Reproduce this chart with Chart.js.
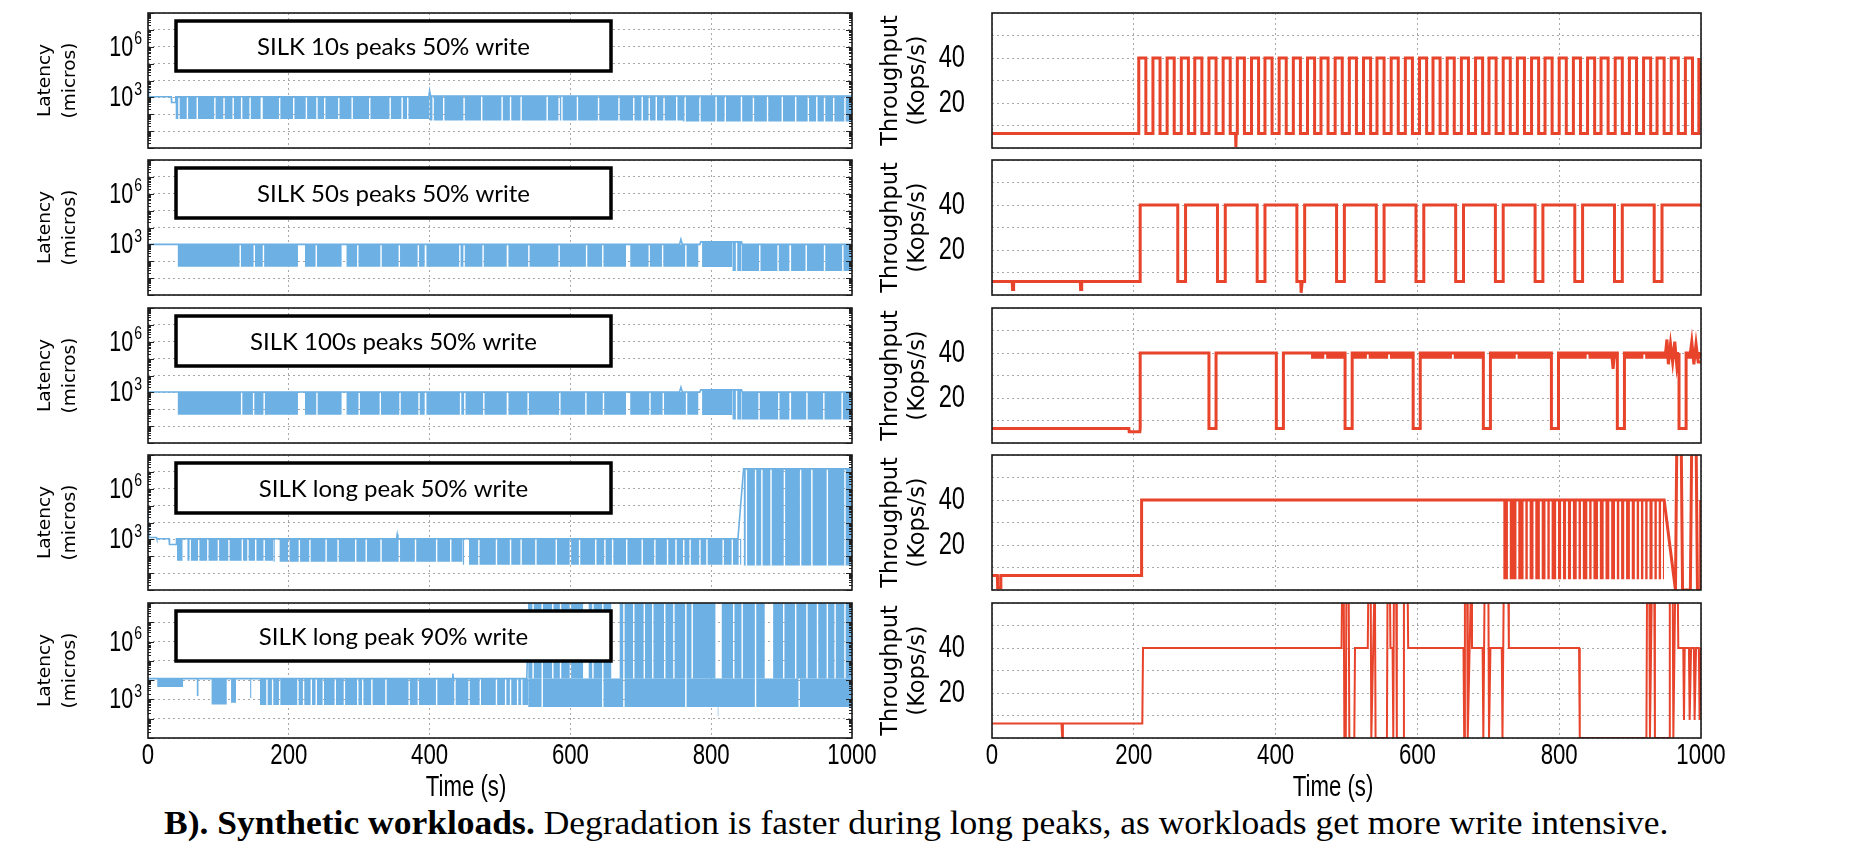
<!DOCTYPE html>
<html>
<head>
<meta charset="utf-8">
<script src="https://cdn.jsdelivr.net/npm/chart.js@4.4.1/dist/chart.umd.min.js"></script>
<style>
  html, body { margin: 0; padding: 0; background: #fff; }
  body { width: 1872px; height: 862px; position: relative; overflow: hidden; }
  canvas { position: absolute; }
  #caption { position: absolute; left: 164px; top: 804px; white-space: nowrap; transform: scaleX(1.044);
    transform-origin: 0 0; font-family: "Liberation Serif", "Times New Roman", serif; font-size: 34px; color: #000; }
</style>
</head>
<body>
<div id="caption"><b>B). Synthetic workloads.</b> Degradation is faster during long peaks, as workloads get more write intensive.</div>
<script>
// ---- latency (left column), micros, log scale ----
// top line of each trace, and dense spans [start, end, top, bottom] with short breaks (s)
const lat10TopT = [0, 1, 33, 33.5, 39, 39.5, 399, 400, 401.5, 1000];
const lat10TopV = [4200, 1100, 1100, 500, 500, 1100, 1100, 2500, 1200, 1200];
const lat10Spans = [[39, 400, 1100, 52], [400, 760, 1200, 43], [760, 1000, 1200, 37]];
const lat10Gaps = [44, 56, 70, 95, 108, 121, 133, 145, [160, 163], 187, 207, 225, 240, 251, 271, 290, 315, 344, 361, 369,
  405, 420, 449, 474, 503, 515, 530, 567, 584, 588, 610, 640, 669, 690, 702, 712, 722, 733, 751, 763, 784, 807, 820,
  843, 860, 880, 901, 920, 938, 950, 961, 974, 990];

const lat50TopT = [0, 42, 755, 757, 759, 784, 785, 843, 844, 1000];
const lat50TopV = [1000, 1000, 1000, 2000, 1000, 1000, 1400, 1400, 1000, 1000];
const lat50Spans = [[42, 782, 1000, 48], [787, 830, 1400, 46], [830, 843, 1400, 26], [843, 1000, 1000, 26]];
const lat50Gaps = [131, 151, 164, [213, 223], 239, [275, 282], 298, 331, 357, 384, [393, 395.5], 443, 449, 476,
  [509.5, 512], 541, 584, 623, 646, [679, 685], 712, 731, 764, 836, 869, 895, [911, 913.5], 935, 961, 987];

const lat100TopT = [0, 42, 755, 757, 759, 784, 785, 843, 844, 1000];
const lat100TopV = [1050, 1050, 1050, 2000, 1050, 1050, 1400, 1400, 1050, 1050];
const lat100Spans = [[42, 782, 1050, 48], [787, 830, 1400, 46], [830, 843, 1400, 25], [843, 1000, 1050, 25]];
const lat100Gaps = [133, 150, 165, [213, 223], 240, [275, 282], 300, 330, 358, 385, [393, 395.5], 444, 450, 477,
  [509.5, 512], 540, 585, 622, 647, [679, 685], 713, 732, 765, 836, 868, 896, [911, 913.5], 936, 960, 986];

const latLongTopT = [0, 1.5, 12, 12.5, 30, 30.5, 40, 40.5, 353, 354, 355, 838, 846, 997, 999];
const latLongTopV = [28000, 1300, 1300, 1100, 1100, 500, 500, 1100, 1100, 2000, 1100, 1100, 1.5e7, 1.5e7, 28];
const latLongSpans = [[41, 178, 1100, 55], [178, 447, 1100, 47], [447, 843, 1100, 31], [846, 998, 1.5e7, 28]];
const latLongGaps = [[49, 56], 60, 72, 85, 100, 115, 134, 142, 153, 165, [180, 187], 200, 215, 230, 253, 270, 295, 310,
  331, 357, 380, 410, 430, [449, 456], 470, 495, 515, 530, 551, 580, 600, 613, 636, 649, 660, 680, 702, 720, 738, 750,
  761, 770, 784, 794, 817, 830, 840, 850, 863, 872, 885, 904, 927, 943, 965, 990];

const lat90TopT = [0, 432, 433, 434, 538, 542, 1000];
const lat90TopV = [12000, 12000, 22000, 12000, 12000, 1e9, 1e9];
const lat90Spans = [[13, 50, 12000, 4400], [69, 72, 12000, 1500], [90, 112, 12000, 550], [118, 125, 12000, 670],
  [145, 147, 12000, 1200], [159, 540, 12000, 520], [540, 1000, 12000, 400], [809, 810.5, 12000, 135]];
const lat90Gaps = [169, 177, 187, 213, 221, 232, 239, 249, 266, 279, 298, 305, 318, 338, 371, 384, 410, 436, 456, 472,
  495, 508, 515, 525, 531, 560, 646, 676, 764, 863, 925];
const lat90UpSpans = [[540, 1000, 1e9, 12000]];
const lat90UpGaps = [547, 560, 575, 586, 600, [618, 626], 632, 646, [658, 670], 676, 690, 705, 717, 734, 747, 764, 773,
  [806, 815], 832, 844, 863, [876, 888], 903, 920, 936, 951, 965, 976, 990];

// ---- throughput (right column), Kops/s ----
const tp10Up = [207, 227, 247, 267, 286, 306, 326, 346, 366, 385, 405, 425, 445, 464, 484, 504, 524, 543, 563, 583, 603,
  622, 642, 662, 682, 701, 721, 741, 761, 780, 800, 820, 840, 859, 879, 899, 919, 938, 958, 978, 997];
const tp10Down = [217, 237, 257, 277, 296, 316, 336, 356, 376, 395, 415, 435, 455, 474, 494, 514, 534, 553, 573, 593, 613,
  632, 652, 672, 692, 711, 731, 751, 771, 790, 810, 830, 850, 869, 889, 909, 929, 948, 968, 988];
const tp10Extra = [[343.5, 6.5], [344, 0.5], [344.5, 6.5], [1000, 24]];

const tp50Up = [209, 273, 329, 385, 441, 497, 553, 609, 665, 721, 777, 833, 889, 945];
const tp50Down = [262, 318, 374, 430, 486, 542, 598, 654, 710, 766, 822, 878, 934];
const tp50Extra = [[28.5, 6], [29, 2.5], [30, 2.5], [30.5, 6], [124.5, 6], [125, 2.5], [126, 2.5], [126.5, 6],
  [435.5, 6], [436, 1], [437, 1], [437.5, 6]];

const tp100Up = [209, 316, 411, 508, 604, 703, 799, 892, 979];
const tp100Down = [306, 401, 498, 594, 693, 789, 882, 969];
const tp100Extra = [[193, 6.5], [193.5, 5], [208.5, 5], [874, 40], [876, 33], [878, 40], [950, 40], [952, 46],
  [954, 35], [957, 44], [960, 36], [963, 45], [966, 34], [985, 40], [987, 45], [990, 35], [993, 44], [996, 36]];
const tp100Spans = [[450, 1000, 40.5, 37.5]];
const tp100Gaps = [470, [498, 508], 530, 560, [594, 604], 650, [693, 703], 740, [789, 799], 840, [882, 892], 920,
  [969, 979]];

const tpLongUp = [211];
const tpLongDown = [];
const tpLongExtra = [[7.5, 6.5], [8, 1], [12, 1], [12.5, 6.5], [948, 40], [964, 0], [966, 70], [972, 70], [974, 0],
  [985, 0], [987, 70], [993, 70], [995, 0], [999, 0], [999.5, 40], [1000, 20]];
const tpLongSpans = [[721, 948, 40.5, 4.8]];
const tpLongGaps = [729, 741, 751, 757, 765, 774, 782, 788, 797, 804, 811, 818, 826, 832, 841, 847, 856, 864, 872, 880,
  886, 893, 901, 908, 914, 920, 926, 933, 939, 945];

const tp90 = [[0, 6.5], [98, 6.5], [99, 0], [100, 6.5], [212, 6.5], [213, 40], [493, 40], [494, 75], [496, 75], [497, 0],
  [499, 0], [500, 75], [503, 75], [504, 0], [511, 0], [512, 40], [530, 40], [531, 75], [534, 75], [535, 0], [540, 75],
  [541, 0], [557, 0], [558, 75], [561, 75], [562, 40], [565, 40], [566, 0], [567, 75], [570, 75], [571, 0], [580, 0],
  [581, 75], [586, 75], [587, 40], [665, 40], [666, 0], [667, 75], [670, 75], [671, 0], [676, 75], [677, 40], [692, 40],
  [693, 0], [695, 75], [700, 75], [701, 0], [703, 40], [719, 40], [720, 0], [722, 75], [728, 75], [729, 40], [828, 40],
  [829, 0], [923, 0], [924, 75], [927, 75], [928, 0], [931, 75], [934, 75], [935, 0], [955, 0], [956, 75], [960, 75],
  [961, 0], [964, 75], [967, 75], [968, 40], [975, 40], [976, 8], [977, 40], [983, 40], [984, 8], [986, 40], [990, 40],
  [991, 8], [993, 40], [997, 40], [998, 8], [1000, 40]];

const xTicks = [0, 200, 400, 600, 800, 1000];
const decades = [1, 10, 100, 1e3, 1e4, 1e5, 1e6, 1e7, 1e8];
const latLabels = [1e3, 1e6];
const tpLabels = [20, 40];

const BLUE = '#6cb0e4';
const RED = '#e8432b';
const GRID = '#a8a8a8';
const SANS = '"Liberation Sans", Arial, sans-serif';
const SQUEEZE = 0.74;   // the figure's tick font is a condensed face
const ROW_TOP = [13, 160, 308, 455, 603];
const ROW_H = 135;

function squeezed(ctx, text, x, y, size, align) {
  ctx.save();
  ctx.font = size + 'px ' + SANS;
  ctx.textAlign = align;
  ctx.textBaseline = 'middle';
  ctx.translate(x, y);
  ctx.scale(SQUEEZE, 1);
  ctx.fillText(text, 0, 0);
  ctx.restore();
}

// frame, tick labels, axis titles, log minor ticks, white label box
const deco = {
  id: 'deco',
  afterDraw(chart, args, opts) {
    const { ctx, chartArea: a } = chart;
    const y = chart.scales.y;
    const x = chart.scales.x;
    ctx.save();
    ctx.fillStyle = '#000';
    if (opts.log) {
      ctx.strokeStyle = '#222';
      ctx.lineWidth = 1;
      decades.forEach(d => {
        for (let m = 1; m <= 9; m++) {
          const v = m * d;
          if (v < y.min || v > y.max) continue;
          const py = Math.round(y.getPixelForValue(v)) + 0.5;
          const len = m === 1 ? 6 : 3;
          ctx.beginPath();
          ctx.moveTo(a.left, py); ctx.lineTo(a.left + len, py);
          ctx.moveTo(a.right, py); ctx.lineTo(a.right - len, py);
          ctx.stroke();
        }
      });
      latLabels.forEach(v => {
        const py = y.getPixelForValue(v) - 1;
        const exp = String(Math.round(Math.log10(v)));
        ctx.font = '19px ' + SANS;
        const w = ctx.measureText(exp).width * SQUEEZE;
        squeezed(ctx, exp, a.left - 6, py - 7, 19, 'right');
        squeezed(ctx, '10', a.left - 7 - w, py + 2, 29, 'right');
      });
    }
    if (opts.yLabels) {
      opts.yLabels.forEach(v => squeezed(ctx, String(v), a.left - 27, y.getPixelForValue(v), 32, 'right'));
    }
    if (opts.xLabels) {
      xTicks.forEach(v => squeezed(ctx, String(v), x.getPixelForValue(v), a.bottom + 18, 30, 'center'));
      squeezed(ctx, 'Time (s)', a.left + opts.xTitleDx, a.bottom + 50, 30, 'center');
    }
    if (opts.yTitle) {
      ctx.font = opts.yTitleSize + 'px "DejaVu Sans"';
      ctx.textAlign = 'center';
      ctx.textBaseline = 'middle';
      opts.yTitle.forEach((line, k) => {
        ctx.save();
        ctx.translate(a.left - opts.yTitleDx[k], (a.top + a.bottom) / 2);
        ctx.rotate(-Math.PI / 2);
        ctx.fillText(line, 0, 0);
        ctx.restore();
      });
    }
    ctx.lineWidth = 1.6;
    ctx.strokeStyle = '#1a1a1a';
    ctx.strokeRect(a.left, a.top, a.width, a.height);
    if (opts.box) {
      const bx = a.left + 28, by = a.top + 8, bw = 435, bh = 50;
      ctx.fillStyle = '#fff';
      ctx.fillRect(bx, by, bw, bh);
      ctx.lineWidth = 3.5;
      ctx.strokeStyle = '#000';
      ctx.strokeRect(bx, by, bw, bh);
      ctx.fillStyle = '#000';
      ctx.font = '24px Lato';
      ctx.textAlign = 'center';
      ctx.textBaseline = 'middle';
      ctx.fillText(opts.box, bx + bw / 2, by + bh / 2 + 1);
    }
    ctx.restore();
  }
};

function gapEdges(g, half) {
  return Array.isArray(g) ? g : [g - half, g + half];
}

// dense oscillation drawn as a filled block from top to bottom, broken at the gaps
function bandData(span, gaps, half) {
  const [s, e, top, low] = span;
  const pts = [{ x: s, y: top }, { x: s, y: low }];
  gaps.forEach(g => {
    const [a, b] = gapEdges(g, half);
    if (a <= s || b >= e) return;
    pts.push({ x: a, y: low }, { x: a, y: top }, { x: b, y: top }, { x: b, y: low });
  });
  pts.push({ x: e, y: low }, { x: e, y: top });
  return pts;
}

function bandSets(spans, gaps, half, color) {
  return spans.map(sp => ({
    data: bandData(sp, gaps, half),
    borderColor: 'rgba(0,0,0,0)', borderWidth: 0, borderDash: [4, 0],
    backgroundColor: color, fill: { value: sp[2] }, pointRadius: 0, tension: 0
  }));
}

function pulseData(ups, downs, hi, lo, extra) {
  const pts = [{ x: 0, y: lo }];
  ups.forEach((u, i) => {
    pts.push({ x: u, y: lo }, { x: u, y: hi });
    if (i < downs.length) pts.push({ x: downs[i], y: hi }, { x: downs[i], y: lo });
  });
  extra.forEach(([x, y]) => pts.push({ x, y }));
  pts.sort((p, q) => p.x - q.x);
  if (pts[pts.length - 1].x < 1000) pts.push({ x: 1000, y: pts[pts.length - 1].y });
  return pts;
}

function addCanvas(left, top, w, h) {
  const c = document.createElement('canvas');
  c.width = w; c.height = h;
  c.style.left = left + 'px'; c.style.top = top + 'px';
  c.style.width = w + 'px'; c.style.height = h + 'px';
  document.body.appendChild(c);
  return c;
}

function xScale(last) {
  return {
    type: 'linear', min: 0, max: 1000,
    afterBuildTicks: s => { s.ticks = xTicks.map(v => ({ value: v })); },
    afterFit: s => { s.height = last ? 70 : 20; },
    ticks: { display: false },
    grid: { color: GRID, lineWidth: 1, drawTicks: false },
    border: { display: false, dash: [2, 3] }
  };
}

const latPanels = [
  { label: 'SILK 10s peaks 50% write', min: 1, max: 1e8, topT: lat10TopT, topV: lat10TopV, bands: [[lat10Spans, lat10Gaps]] },
  { label: 'SILK 50s peaks 50% write', min: 1, max: 1e8, topT: lat50TopT, topV: lat50TopV, bands: [[lat50Spans, lat50Gaps]] },
  { label: 'SILK 100s peaks 50% write', min: 1, max: 1e8, topT: lat100TopT, topV: lat100TopV, bands: [[lat100Spans, lat100Gaps]] },
  { label: 'SILK long peak 50% write', min: 1, max: 1e8, topT: latLongTopT, topV: latLongTopV, bands: [[latLongSpans, latLongGaps]] },
  { label: 'SILK long peak 90% write', min: 10, max: 1e8, topT: lat90TopT, topV: lat90TopV,
    bands: [[lat90Spans, lat90Gaps], [lat90UpSpans, lat90UpGaps]] }
];

latPanels.forEach((p, i) => {
  const last = i === 4;
  const cv = addCanvas(0, ROW_TOP[i] - 20, 900, 20 + ROW_H + (last ? 70 : 20));
  const datasets = [{
    data: p.topT.map((t, k) => ({ x: t, y: p.topV[k] })),
    borderColor: BLUE, borderWidth: 1.6, pointRadius: 0, fill: false, tension: 0
  }];
  p.bands.forEach(([spans, gaps]) => datasets.push(...bandSets(spans, gaps, 1, BLUE)));
  new Chart(cv, {
    type: 'line',
    data: { datasets },
    options: {
      responsive: false, animation: false, devicePixelRatio: 1,
      layout: { padding: { top: 20, right: 48, left: 0, bottom: 0 } },
      plugins: {
        legend: { display: false }, tooltip: { enabled: false },
        deco: { box: p.label, log: true, xLabels: last, xTitleDx: 318,
          yTitle: ['Latency', '(micros)'], yTitleSize: 18.5, yTitleDx: [103, 78] }
      },
      scales: {
        x: xScale(last),
        y: {
          type: 'logarithmic', min: p.min, max: p.max,
          afterBuildTicks: s => { s.ticks = decades.filter(v => v >= p.min && v <= p.max).map(v => ({ value: v })); },
          afterFit: s => { s.width = 148; },
          ticks: { display: false },
          grid: { color: GRID, lineWidth: 1, drawTicks: false },
          border: { display: false, dash: [2, 3] }
        }
      }
    },
    plugins: [deco]
  });
});

const tpPanels = [
  { data: pulseData(tp10Up, tp10Down, 40, 6.5, tp10Extra), width: 3, bands: [] },
  { data: pulseData(tp50Up, tp50Down, 40, 6, tp50Extra), width: 3, bands: [] },
  { data: pulseData(tp100Up, tp100Down, 40, 6.5, tp100Extra), width: 3, bands: [[tp100Spans, tp100Gaps]] },
  { data: pulseData(tpLongUp, tpLongDown, 40, 6.5, tpLongExtra), width: 3, bands: [[tpLongSpans, tpLongGaps]] },
  { data: tp90.map(([x, y]) => ({ x, y })), width: 2, bands: [] }
];

tpPanels.forEach((p, i) => {
  const last = i === 4;
  const cv = addCanvas(870, ROW_TOP[i] - 20, 880, 20 + ROW_H + (last ? 70 : 20));
  const datasets = [{
    data: p.data, borderColor: RED, borderWidth: p.width, pointRadius: 0, fill: false, tension: 0
  }];
  p.bands.forEach(([spans, gaps]) => datasets.push(...bandSets(spans, gaps, 1.3, RED)));
  new Chart(cv, {
    type: 'line',
    data: { datasets },
    options: {
      responsive: false, animation: false, devicePixelRatio: 1,
      layout: { padding: { top: 20, right: 49, left: 0, bottom: 0 } },
      plugins: {
        legend: { display: false }, tooltip: { enabled: false },
        deco: { yLabels: tpLabels, xLabels: last, xTitleDx: 341,
          yTitle: ['Throughput', '(Kops/s)'], yTitleSize: 22.5, yTitleDx: [101, 74] }
      },
      scales: {
        x: xScale(last),
        y: {
          type: 'linear', min: 0, max: 60,
          afterFit: s => { s.width = 122; },
          ticks: { stepSize: 10, display: false },
          grid: { color: GRID, lineWidth: 1, drawTicks: false },
          border: { display: false, dash: [2, 3] }
        }
      }
    },
    plugins: [deco]
  });
});
</script>
</body>
</html>
